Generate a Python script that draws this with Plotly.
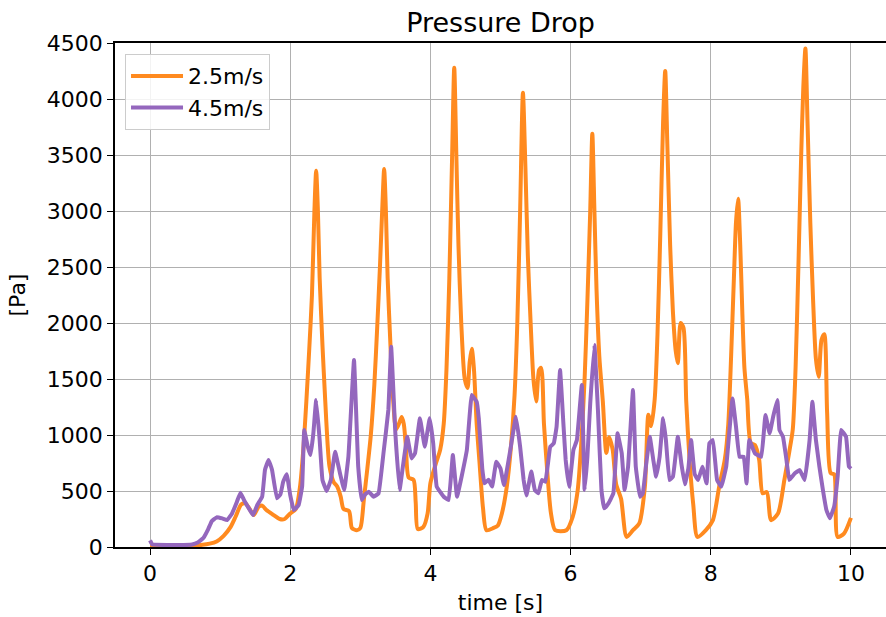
import plotly.graph_objects as go

# ---- data ----
t_25 = [0.00, 0.30, 0.60, 0.75, 0.85, 0.95, 1.05, 1.15, 1.22, 1.30, 1.36, 1.42, 1.48, 1.55, 1.60, 1.66,
        1.75, 1.85, 1.92, 2.00, 2.08, 2.14, 2.19, 2.23, 2.27, 2.31, 2.345, 2.37, 2.395, 2.42, 2.46, 2.50,
        2.53, 2.56, 2.62, 2.67, 2.72, 2.76, 2.84, 2.88, 2.95, 3.00, 3.05, 3.10, 3.15, 3.20, 3.24, 3.28,
        3.315, 3.34, 3.365, 3.39, 3.43, 3.47, 3.51, 3.55, 3.59, 3.62, 3.65, 3.69, 3.76, 3.79, 3.82, 3.90,
        3.96, 4.00, 4.08, 4.14, 4.19, 4.23, 4.27, 4.31, 4.34, 4.37, 4.40, 4.44, 4.49, 4.53, 4.56, 4.59,
        4.62, 4.66, 4.70, 4.75, 4.80, 4.90, 4.96, 5.02, 5.09, 5.15, 5.20, 5.24, 5.28, 5.32, 5.355, 5.39,
        5.43, 5.47, 5.51, 5.55, 5.58, 5.62, 5.67, 5.72, 5.78, 5.94, 6.03, 6.10, 6.15, 6.20, 6.24, 6.28,
        6.31, 6.34, 6.37, 6.41, 6.46, 6.51, 6.55, 6.60, 6.65, 6.72, 6.80, 6.89, 6.98, 7.06, 7.11, 7.15,
        7.20, 7.24, 7.28, 7.32, 7.35, 7.38, 7.42, 7.46, 7.50, 7.53, 7.57, 7.61, 7.65, 7.70, 7.75, 7.81,
        7.93, 8.03, 8.12, 8.20, 8.25, 8.29, 8.33, 8.36, 8.39, 8.42, 8.45, 8.48, 8.52, 8.57, 8.63, 8.69,
        8.74, 8.80, 8.86, 8.96, 9.05, 9.12, 9.17, 9.21, 9.25, 9.29, 9.32, 9.35, 9.38, 9.42, 9.46, 9.50,
        9.54, 9.58, 9.62, 9.66, 9.71, 9.76, 9.81, 9.90, 10.00]
p_25 = [15, 12, 15, 20, 30, 50, 100, 180, 270, 380, 390, 340, 285, 360, 370, 330,
        290, 250, 250, 300, 340, 540, 900, 1300, 1750, 2250, 3000, 3360, 3000, 2400, 1800, 1300,
        950, 720, 580, 540, 450, 340, 320, 170, 150, 170, 420, 700, 1000, 1450, 1950, 2500,
        3050, 3375, 3000, 2400, 1800, 1300, 1050, 1100, 1160, 1100, 900, 620, 600, 400, 160, 180,
        300, 570, 750, 870, 1100, 1600, 2400, 3500, 4280, 3500, 2700, 2000, 1500, 1420, 1650, 1770,
        1600, 1100, 760, 350, 150, 170, 190, 300, 540, 900, 1350, 2000, 3000, 4055, 3400, 2600,
        2000, 1500, 1300, 1580, 1600, 1100, 650, 300, 150, 150, 270, 500, 900, 1500, 2200, 3000,
        3690, 3000, 2300, 1700, 1300, 840, 980, 870, 560, 430, 90, 150, 210, 540, 1180, 1080,
        1320, 1900, 2800, 3800, 4250, 3600, 2700, 2100, 1750, 1640, 2000, 1960, 1300, 750, 380, 90,
        150, 240, 540, 780, 1100, 1700, 2400, 2900, 3110, 2700, 2100, 1600, 1320, 930, 910, 780,
        480, 490, 240, 300, 600, 850, 1050, 1600, 2500, 3500, 4100, 4450, 3800, 2900, 2200, 1680,
        1520, 1850, 1900, 1200, 660, 650, 90, 120, 260]

t_45 = [0.00, 0.03, 0.30, 0.60, 0.68, 0.76, 0.83, 0.88, 0.95, 1.03, 1.10, 1.17, 1.24, 1.29, 1.34, 1.41,
        1.47, 1.53, 1.60, 1.64, 1.69, 1.74, 1.81, 1.86, 1.90, 1.95, 2.00, 2.05, 2.12, 2.17, 2.20, 2.25,
        2.29, 2.33, 2.37, 2.42, 2.46, 2.52, 2.58, 2.64, 2.71, 2.77, 2.83, 2.91, 2.97, 3.02, 3.07, 3.12,
        3.19, 3.26, 3.33, 3.40, 3.44, 3.50, 3.56, 3.62, 3.67, 3.73, 3.78, 3.85, 3.92, 3.99, 4.04, 4.09,
        4.19, 4.26, 4.32, 4.38, 4.45, 4.52, 4.59, 4.66, 4.69, 4.74, 4.77, 4.83, 4.88, 4.94, 5.00, 5.05,
        5.14, 5.22, 5.28, 5.33, 5.37, 5.44, 5.49, 5.54, 5.59, 5.64, 5.71, 5.76, 5.80, 5.85, 5.90, 5.93,
        5.98, 6.04, 6.09, 6.16, 6.20, 6.24, 6.28, 6.34, 6.39, 6.44, 6.48, 6.54, 6.61, 6.67, 6.73, 6.77,
        6.82, 6.85, 6.89, 6.93, 6.99, 7.03, 7.08, 7.13, 7.18, 7.22, 7.27, 7.32, 7.36, 7.41, 7.46, 7.53,
        7.58, 7.63, 7.68, 7.72, 7.77, 7.82, 7.88, 7.94, 7.98, 8.03, 8.09, 8.15, 8.22, 8.31, 8.36, 8.41,
        8.47, 8.51, 8.55, 8.63, 8.72, 8.78, 8.84, 8.89, 8.95, 8.98, 9.03, 9.08, 9.12, 9.20, 9.27, 9.34,
        9.41, 9.45, 9.50, 9.55, 9.60, 9.65, 9.70, 9.76, 9.81, 9.86, 9.93, 9.97, 10.00]
p_45 = [60, 25, 18, 22, 40, 80, 160, 230, 265, 255, 240, 300, 405, 485, 420, 345,
        285, 375, 450, 690, 777, 690, 435, 470, 583, 650, 464, 330, 375, 540, 1045, 896,
        821, 1015, 1312, 955, 598, 500, 600, 851, 658, 509, 806, 1670, 717, 420, 470, 494,
        449, 479, 836, 1223, 1789, 1015, 509, 777, 985, 791, 836, 1149, 896, 1149, 925, 539,
        449, 420, 821, 449, 643, 866, 1357, 1297, 1150, 700, 568, 600, 539, 762, 700, 553,
        866, 1163, 896, 598, 460, 673, 509, 479, 598, 583, 896, 925, 1074, 1580, 1074, 777,
        539, 866, 955, 1446, 509, 806, 1283, 1803, 1223, 509, 345, 390, 479, 1015, 836, 509,
        717, 1015, 1402, 717, 449, 479, 747, 985, 777, 628, 806, 1149, 955, 598, 628, 985,
        747, 560, 700, 955, 650, 598, 717, 568, 925, 955, 598, 539, 717, 1327, 1074, 806,
        806, 568, 955, 836, 806, 1178, 1015, 1163, 1312, 1045, 985, 777, 598, 658, 687, 598,
        955, 1297, 955, 717, 509, 330, 256, 360, 628, 1045, 985, 720, 700]

y_ticks = [0, 500, 1000, 1500, 2000, 2500, 3000, 3500, 4000, 4500]
x_ticks = [0, 2, 4, 6, 8, 10]

FONT = "DejaVu Sans"

fig = go.Figure()
fig.add_trace(go.Scatter(x=t_25, y=p_25, mode="lines", name="2.5m/s",
                         line=dict(color="#ff8a1f", width=4, shape="spline", smoothing=0.7)))
fig.add_trace(go.Scatter(x=t_45, y=p_45, mode="lines", name="4.5m/s",
                         line=dict(color="#9467bd", width=4, shape="spline", smoothing=0.25)))

fig.update_layout(
    width=886, height=617,
    margin=dict(l=115, r=0, t=43, b=70, autoexpand=False),
    paper_bgcolor="white", plot_bgcolor="white",
    font=dict(family=FONT, size=22, color="black"),
    title=dict(text="Pressure Drop", x=0.565, xanchor="center", y=0.978, yanchor="top",
               font=dict(family=FONT, size=27, color="black")),
    legend=dict(x=0.013, y=0.978, xanchor="left", yanchor="top",
                bgcolor="rgba(255,255,255,0.85)", bordercolor="#cccccc", borderwidth=1,
                font=dict(family=FONT, size=22), itemwidth=52, tracegroupgap=0),
    showlegend=True,
)
fig.update_xaxes(range=[-0.5, 10.5], tickvals=x_ticks, ticktext=[str(v) for v in x_ticks],
                 showgrid=True, gridcolor="#b0b0b0", gridwidth=1.2,
                 showline=True, linecolor="black", linewidth=1.5, mirror=True,
                 ticks="outside", ticklen=6, tickwidth=1.3, tickcolor="black",
                 zeroline=False, automargin=False,
                 title=dict(text="time [s]", font=dict(family=FONT, size=22), standoff=9))
fig.update_yaxes(range=[0, 4500], tickvals=y_ticks, ticktext=[str(v) for v in y_ticks],
                 showgrid=True, gridcolor="#b0b0b0", gridwidth=1.2,
                 showline=True, linecolor="black", linewidth=1.5, mirror=True,
                 ticks="outside", ticklen=6, tickwidth=1.3, tickcolor="black",
                 zeroline=False, automargin=False,
                 title=dict(text="[Pa]", font=dict(family=FONT, size=22), standoff=15))

fig.write_html("out.html", config={"displayModeBar": False},
               post_script="document.body.style.margin='0';document.body.style.overflow='hidden';")
